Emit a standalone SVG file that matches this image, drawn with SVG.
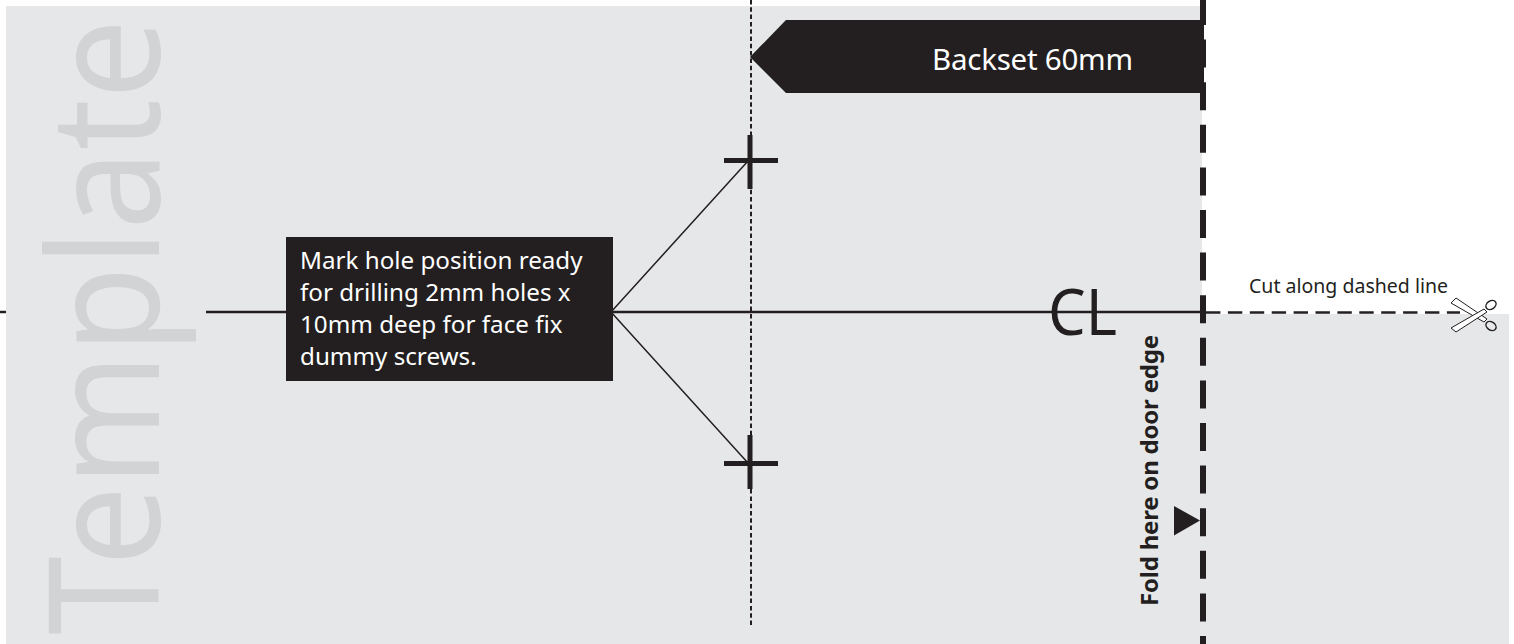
<svg xmlns="http://www.w3.org/2000/svg" width="1514" height="644" viewBox="0 0 1514 644">
<style>
.dark{fill:#231f20}
.ln{stroke:#231f20;fill:none}
.sans{font-family:"Noto Sans","Open Sans","Liberation Sans",sans-serif}
.blade{fill:#fff;stroke:#231f20;stroke-width:1}
.ring{fill:none;stroke:#231f20;stroke-width:1.5}
</style>
<rect width="1514" height="644" fill="#fff"/>
<g id="template-sheet">
<path d="M6 6H1202V314H1509V644H6Z" fill="#e6e7e8"/>
<text transform="translate(159 635) rotate(-90)" class="sans" font-size="154" fill="#d1d3d4" textLength="616" lengthAdjust="spacingAndGlyphs">Template</text>
</g>
<g id="connectors">
<path class="ln" stroke-width="2.5" d="M0 312H6M206 312H1206"/>
<path class="ln" stroke-width="2.5" stroke-dasharray="14.4 7.5" d="M1206 312.500H1460"/>
<path class="ln" stroke-width="2" stroke-dasharray="4.500 2.800" d="M751 0V627"/>
<path class="ln" stroke-width="1.500" d="M611 312L748 161M611 312L748 463"/>
</g>
<g id="cross-top"><path class="dark" d="M724 158H778V163H724ZM747.500 135H752.500V189H747.500Z"/></g>
<g id="cross-bottom"><path class="dark" d="M724 461H778V466H724ZM747.500 435H752.500V489H747.500Z"/></g>
<g id="backset"><path class="dark" d="M750 57L786 20H1204V93H786Z"/><text x="932" y="70" class="sans" font-size="29.500" fill="#fff" textLength="201">Backset 60mm</text></g>
<g id="fold-line"><path class="ln" stroke-width="6" stroke-dasharray="28 14.600" d="M1203 -3V644"/></g>
<g id="note"><rect class="dark" x="286" y="237" width="327" height="144"/>
<text class="sans" font-size="24.200" fill="#fff"><tspan x="300" y="269">Mark hole position ready</tspan><tspan x="300" y="301">for drilling 2mm holes x</tspan><tspan x="300" y="333">10mm deep for face fix</tspan><tspan x="300" y="365">dummy screws.</tspan></text></g>
<g id="cl"><text x="1048" y="335" class="sans" font-size="63" fill="#231f20" textLength="69" lengthAdjust="spacingAndGlyphs">CL</text></g>
<g id="fold"><text transform="translate(1158 606) rotate(-90)" class="sans" font-size="24" font-weight="700" fill="#231f20" textLength="271">Fold here on door edge</text><path class="dark" d="M1174 506L1200 520.500L1174 535.500Z"/></g>
<g id="cut"><text x="1249" y="293" class="sans" font-size="19.500" fill="#231f20" textLength="199">Cut along dashed line</text>
<g id="scissors"><path class="blade" d="M1451 303L1456 298L1487 319L1484 322Z"/><path class="blade" d="M1451 328L1456 332L1487 312L1484 309Z"/>
<ellipse class="ring" cx="1491" cy="305" rx="5.500" ry="4" transform="rotate(-35 1491 305)"/><ellipse class="ring" cx="1491" cy="326" rx="5.500" ry="4" transform="rotate(35 1491 326)"/></g></g>
</svg>
